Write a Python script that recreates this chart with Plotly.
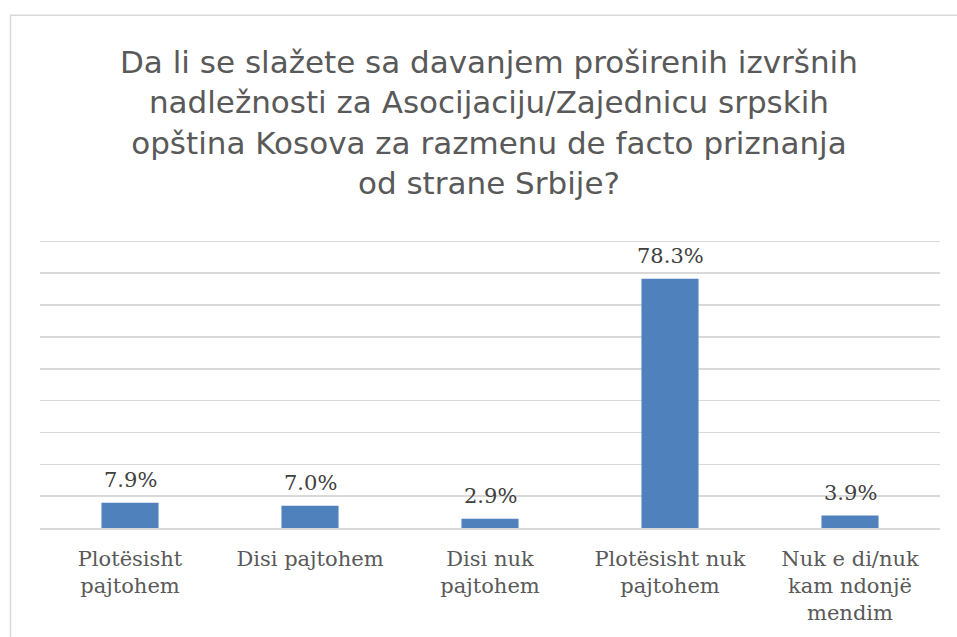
import plotly.graph_objects as go

categories = ["Plotësisht<br>pajtohem", "Disi pajtohem", "Disi nuk<br>pajtohem",
              "Plotësisht nuk<br>pajtohem", "Nuk e di/nuk<br>kam ndonjë<br>mendim"]
values = [7.9, 7.0, 2.9, 78.3, 3.9]
labels = [f"{v:.1f}%" for v in values]
title_lines = ["Da li se slažete sa davanjem proširenih izvršnih",
               "nadležnosti za Asocijaciju/Zajednicu srpskih",
               "opština Kosova za razmenu de facto priznanja",
               "od strane Srbije?"]
y_max = 92

W, H = 957, 637
# value 0 at y=530, value 90 at y=241 (page pixels)
X0, X1, Y1 = 40, 940, 530
Y0 = Y1 - y_max * (530 - 241) / 90
L, R, T, B = X0, W - X1, Y0, H - Y1
pw, ph = W - L - R, H - T - B


def px_x(x):  # page pixel -> paper x
    return (x - X0) / pw


def px_y(y):  # page pixel -> paper y
    return (Y1 - y) / ph


fig = go.Figure()
fig.add_trace(go.Bar(
    x=categories, y=values,
    marker=dict(color="#4F81BD", line=dict(width=0)),
    cliponaxis=False, hoverinfo="skip",
))

for c, v, t in zip(categories, values, labels):
    fig.add_annotation(x=c, y=v, text=t, showarrow=False, yanchor="bottom",
                       yshift=9, font=dict(family="DejaVu Serif", size=21, color="#404040"))

fig.update_layout(
    width=W, height=H,
    margin=dict(l=L, r=R, t=T, b=B, pad=0),
    paper_bgcolor="white", plot_bgcolor="white",
    bargap=0.683,
    showlegend=False,
    font=dict(family="DejaVu Serif", color="#595959"),
)
fig.update_xaxes(
    showgrid=False, showline=True, linecolor="#D9D9D9", linewidth=1.5,
    ticks="outside", ticklen=11, tickcolor="rgba(0,0,0,0)",
    tickfont=dict(family="DejaVu Serif", size=21, color="#595959"),
    tickangle=0, fixedrange=True,
)
fig.update_yaxes(
    range=[0, y_max], tick0=0, dtick=10, showgrid=True, gridcolor="#D9D9D9", gridwidth=1.5,
    showticklabels=False, zeroline=False, showline=False, fixedrange=True,
)

fig.add_annotation(
    text="<br>".join(title_lines), xref="paper", yref="paper",
    x=px_x(489), y=px_y(121), xanchor="center", yanchor="middle",
    showarrow=False, align="center",
    font=dict(family="DejaVu Sans", size=31, color="#595959"),
)

# outer chart border (left and top edges visible)
fig.add_shape(type="line", xref="paper", yref="paper", layer="below",
              x0=px_x(10.5), x1=px_x(10.5), y0=px_y(700), y1=px_y(13),
              line=dict(color="#D9D9D9", width=1.5))
fig.add_shape(type="line", xref="paper", yref="paper", layer="below",
              x0=px_x(10), x1=px_x(1000), y0=px_y(13), y1=px_y(13),
              line=dict(color="#D9D9D9", width=1.5))

fig.write_html(
    "out.html",
    config={"displayModeBar": False, "staticPlot": True},
    post_script="document.body.style.margin='0';document.body.style.overflow='hidden';",
)
